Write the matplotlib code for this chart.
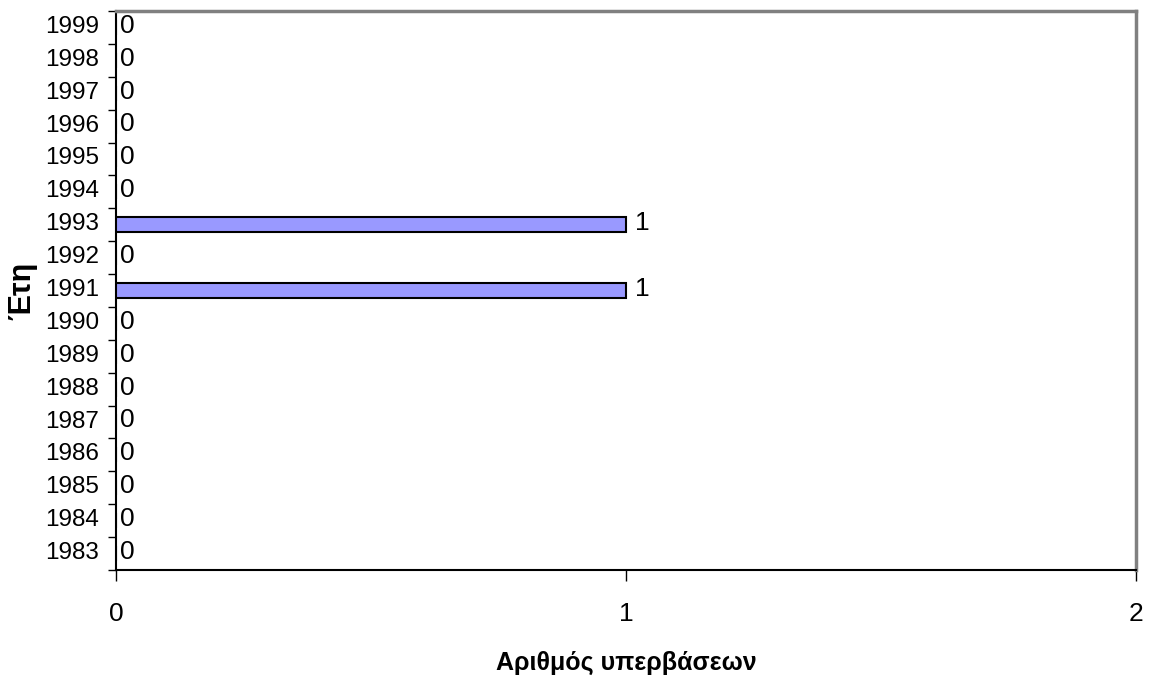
import numpy as np
import matplotlib.pyplot as plt
from matplotlib.transforms import ScaledTranslation
from matplotlib.ticker import FixedLocator, NullFormatter

# exceedances per year
years = list(range(1983, 2000))
counts = [0, 0, 0, 0, 0, 0, 0, 0, 1, 0, 1, 0, 0, 0, 0, 0, 0]

plt.rcParams['font.family'] = ['Liberation Sans', 'DejaVu Sans']

fig = plt.figure(figsize=(11.55, 6.83), dpi=100)
ax = fig.add_axes([116 / 1155, 1 - 570 / 683, (1136 - 116) / 1155, (570 - 11) / 683])

pos = np.arange(len(years))
ax.barh(pos, counts, height=0.46, color='#9999ff', edgecolor='black', linewidth=1.5, zorder=3)

for p, c in zip(pos, counts):
    off = 0.018 if c else 0.008
    ax.text(c + off, p + 0.05, str(c), va='center', ha='left', fontsize=19)

ax.set_xlim(0, 2)
ax.set_ylim(-0.5, len(years) - 0.5)

ax.set_xticks([0, 1, 2])
ax.set_xticklabels(['0', '1', '2'], fontsize=19)
ax.tick_params(axis='x', direction='out', length=8, width=1, pad=15, color='black')

# year labels centred on rows, tick marks on row boundaries
ax.set_yticks(pos)
ax.set_yticklabels([str(y) for y in years], fontsize=17.5)
ax.yaxis.set_minor_locator(FixedLocator(np.arange(-0.5, len(years), 1)))
ax.yaxis.set_minor_formatter(NullFormatter())
ax.tick_params(axis='y', which='major', length=0, pad=12)
ax.tick_params(axis='y', which='minor', direction='out', length=6, width=1, color='black')

# nudge year labels up a little (after tick_params, which resets transforms)
lift = ScaledTranslation(0, 3 / 100, fig.dpi_scale_trans)
for lbl in ax.get_yticklabels():
    lbl.set_transform(lbl.get_transform() + lift)

for s in ['left', 'bottom']:
    ax.spines[s].set_color('black')
    ax.spines[s].set_linewidth(1.5)
for s in ['top', 'right']:
    ax.spines[s].set_color('#808080')
    ax.spines[s].set_linewidth(2.5)

ax.set_xlabel('Αριθμός υπερβάσεων', fontsize=18, fontweight='bold')
ax.xaxis.set_label_coords(0.5, -(663 - 570) / 559)
ax.xaxis.label.set_va('center')
ax.set_ylabel('Έτη', fontsize=22, fontweight='bold')
ax.yaxis.set_label_coords(-(116 - 37) / 1020, 0.5)

fig.savefig('out.png', dpi=100)
